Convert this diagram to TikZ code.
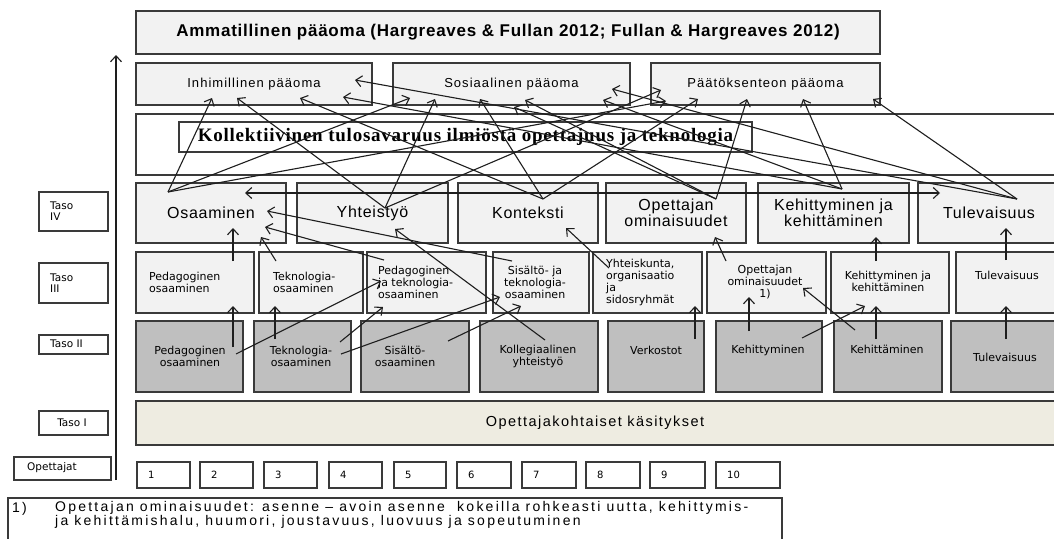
\documentclass[tikz,border=0pt]{standalone}
\usepackage{fontspec}
\setmainfont{Liberation Sans}
\newfontfamily\dejavu{DejaVu Sans}
\newfontfamily\spacedA{Liberation Sans}[LetterSpace=4.5]
\newfontfamily\spacedB{Liberation Sans}[LetterSpace=8]
\newfontfamily\spacedC{Liberation Sans}[LetterSpace=10]
\newfontfamily\spacedD{Liberation Sans}[LetterSpace=16]
\newfontfamily\serifwide{Liberation Serif}[LetterSpace=4]
\usetikzlibrary{arrows.meta}
\definecolor{boxline}{HTML}{3A3A3A}
\definecolor{lightfill}{HTML}{F2F2F2}
\definecolor{grayfill}{HTML}{BFBFBF}
\definecolor{beigefill}{HTML}{EEECE1}
\definecolor{arrowline}{HTML}{1E1E1E}
\newcommand\fsz[2]{\fontsize{#1}{#2}\selectfont}
% \panel{name}{style}{x1}{y1}{x2}{y2}{text}
\newcommand\panel[7]{\node[#2,anchor=north west,minimum width={#5-#3},minimum height={#6-#4}] (#1) at (#3,#4) {#7};}
\tikzset{
  pane/.style={draw=boxline,line width=1.2pt,fill=lightfill,inner sep=0pt,outer sep=0pt,align=center},
  darkpane/.style={pane,fill=grayfill},
  whitepane/.style={pane,fill=white},
  beigepane/.style={pane,fill=beigefill},
  arr/.style={draw=arrowline,line width=1.1pt,-{Straight Barb[length=6pt,width=11pt]}},
  biarr/.style={draw=arrowline,line width=1.1pt,{Straight Barb[length=6pt,width=11pt]}-{Straight Barb[length=6pt,width=11pt]}},
  small/.style={font=\dejavu\fsz{11}{12},inner sep=0pt,align=center},
  smallL/.style={small,align=left},
  tasotxt/.style={font=\dejavu\fsz{10.5}{11},inner sep=0pt,align=left},
  numtxt/.style={font=\dejavu\fsz{10}{12},inner sep=0pt},
  rowfour/.style={font=\spacedA\fsz{16}{16}},
  capital/.style={font=\spacedB\fsz{13}{15}},
  fntxt/.style={font=\spacedD\fsz{14}{14},inner sep=0pt},
}
\begin{document}
\begin{tikzpicture}[x=1pt,y=-1pt]
\useasboundingbox (0,0) rectangle (1054,538);
\clip (0,0) rectangle (1054,538);

% ---- capital level ----
\panel{title}{pane}{136}{11}{880}{54}{\spacedA\bfseries\fsz{17}{19}Ammatillinen pääoma (Hargreaves \& Fullan 2012; Fullan \& Hargreaves 2012)}
\panel{inh}{pane,capital}{136}{63}{372}{105}{Inhimillinen pääoma}
\panel{sos}{pane,capital}{393}{63}{630}{105}{Sosiaalinen pääoma}
\panel{paat}{pane,capital}{651}{63}{880}{105}{Päätöksenteon pääoma}

% ---- collective outcome space ----
\panel{koll}{whitepane}{136}{114}{1062}{175}{}
\panel{kollin}{whitepane}{179}{122}{752}{152}{\serifwide\bfseries\fsz{19}{20}Kollektiivinen tulosavaruus ilmiöstä opettajuus ja teknologia}

% ---- level IV ----
\panel{os4}{pane,rowfour}{136}{183}{286}{243}{Osaaminen}
\panel{yh4}{pane,rowfour}{297}{183}{448}{243}{Yhteistyö}
\panel{ko4}{pane,rowfour}{458}{183}{598}{243}{Konteksti}
\panel{op4}{pane,rowfour}{606}{183}{746}{243}{Opettajan\\ominaisuudet}
\panel{ke4}{pane,rowfour}{758}{183}{909}{243}{Kehittyminen ja\\kehittäminen}
\panel{tu4}{pane,rowfour}{918}{183}{1060}{243}{Tulevaisuus}

% ---- level III ----
\panel{pe3}{pane}{136}{252}{254}{313}{}
\panel{te3}{pane}{259}{252}{363}{313}{}
\panel{pt3}{pane}{367}{252}{486}{313}{}
\panel{st3}{pane}{493}{252}{589}{313}{}
\panel{yk3}{pane}{593}{252}{702}{313}{}
\panel{op3}{pane}{707}{252}{826}{313}{}
\panel{kk3}{pane}{831}{252}{949}{313}{}
\panel{tu3}{pane}{956}{252}{1060}{313}{}
\node[smallL,anchor=west] (pe3t) at (149,282) {Pedagoginen\\osaaminen};
\node[smallL,anchor=west] (te3t) at (273,282) {Teknologia-\\osaaminen};
\node[smallL,anchor=west] (pt3t) at (378,282) {Pedagoginen\\ja teknologia-\\osaaminen};
\node[small] (st3t) at (535,282) {Sisältö- ja\\teknologia-\\osaaminen};
\node[smallL,anchor=west] (yk3t) at (606,282) {Yhteiskunta,\\organisaatio\\ja\\sidosryhmät};
\node[small] (op3t) at (765,282) {Opettajan\\ominaisuudet\\1)};
\node[small] (kk3t) at (888,281) {Kehittyminen ja\\kehittäminen};
\node[small] (tu3t) at (1007,275) {Tulevaisuus};

% ---- level II ----
\panel{pe2}{darkpane}{136}{321}{243}{392}{}
\panel{te2}{darkpane}{254}{321}{351}{392}{}
\panel{si2}{darkpane}{361}{321}{469}{392}{}
\panel{ko2}{darkpane}{480}{321}{598}{392}{}
\panel{ve2}{darkpane}{608}{321}{704}{392}{}
\panel{ky2}{darkpane}{716}{321}{822}{392}{}
\panel{kt2}{darkpane}{834}{321}{942}{392}{}
\panel{tu2}{darkpane}{951}{321}{1060}{392}{}
\node[small] (pe2t) at (190,356) {Pedagoginen\\osaaminen};
\node[small] (te2t) at (301,356) {Teknologia-\\osaaminen};
\node[small] (si2t) at (405,356) {Sisältö-\\osaaminen};
\node[small] (ko2t) at (538,356) {Kollegiaalinen\\yhteistyö};
\node[small] (ve2t) at (656,350) {Verkostot};
\node[small] (ky2t) at (768,350) {Kehittyminen};
\node[small] (kt2t) at (887,349) {Kehittäminen};
\node[small] (tu2t) at (1005,357) {Tulevaisuus};

% ---- level I ----
\panel{band}{beigepane}{136}{401}{1062}{445}{}
\node[font=\spacedC\fsz{14.5}{16},inner sep=0pt] (bandt) at (595,423) {Opettajakohtaiset käsitykset};

% ---- level labels ----
\panel{lab4}{whitepane}{39}{192}{108}{231}{}
\panel{lab3}{whitepane}{39}{263}{108}{303}{}
\panel{lab2}{whitepane}{39}{335}{108}{354}{}
\panel{lab1}{whitepane}{39}{411}{108}{435}{}
\panel{labo}{whitepane}{14}{457}{111}{480}{}
\node[tasotxt,anchor=west] (lab4t) at (50,211) {Taso\\IV};
\node[tasotxt,anchor=west] (lab3t) at (50,283) {Taso\\III};
\node[tasotxt,anchor=west] (lab2t) at (50,344) {Taso II};
\node[tasotxt] (lab1t) at (72,423) {Taso I};
\node[tasotxt,anchor=west] (labot) at (27,468) {Opettajat};

% ---- teachers ----
\foreach \n/\l/\w in {1/137/53,2/200/53,3/264/53,4/329/53,5/394/52,6/457/54,7/522/54,8/586/54,9/650/55,10/716/64}{
  \node[whitepane,anchor=north west,minimum width=\w,minimum height=26] (t\n) at (\l,462) {};
  \node[numtxt,anchor=west] (t\n n) at (\l+11,475) {\n};
}

% ---- footnote ----
\panel{fnbox}{whitepane}{8}{498}{782}{548}{}
\node[fntxt,anchor=west] (fnnum) at (12,509) {1)};
\node[fntxt,anchor=north west,align=left] (fntext) at (55,501)
  {Opettajan ominaisuudet: asenne – avoin asenne \ kokeilla rohkeasti uutta, kehittymis-\\ja kehittämishalu, huumori, joustavuus, luovuus ja sopeutuminen};

% ---- vertical axis ----
\coordinate (axb) at (116,480);
\coordinate (axt) at (116,55);
\draw[arr] (axb) -- (axt);

% ---- level II to level III ----
\coordinate (a1s) at (233,347);  \coordinate (a1e) at (233,306);
\coordinate (a2s) at (275,339);  \coordinate (a2e) at (275,306);
\coordinate (a3s) at (236,354);  \coordinate (a3e) at (381,281);
\coordinate (a4s) at (340,342);  \coordinate (a4e) at (383,307);
\coordinate (a5s) at (341,354);  \coordinate (a5e) at (500,297);
\coordinate (a6s) at (448,341);  \coordinate (a6e) at (521,306);
\coordinate (a7s) at (545,340);  \coordinate (a7e) at (395,229);
\coordinate (a8s) at (695,339);  \coordinate (a8e) at (695,306);
\coordinate (a9s) at (749,331);  \coordinate (a9e) at (749,297);
\coordinate (a10s) at (802,338); \coordinate (a10e) at (865,306);
\coordinate (a11s) at (855,330); \coordinate (a11e) at (803,288);
\coordinate (a12s) at (876,339); \coordinate (a12e) at (876,306);
\coordinate (a13s) at (1006,339);\coordinate (a13e) at (1006,306);
\foreach \i in {1,...,13}{\draw[arr] (a\i s) -- (a\i e);}

% ---- level III to level IV ----
\coordinate (b1s) at (233,261); \coordinate (b1e) at (233,228);
\coordinate (b2s) at (276,261); \coordinate (b2e) at (261,237);
\coordinate (b3s) at (384,260); \coordinate (b3e) at (265,227);
\coordinate (b4s) at (512,261); \coordinate (b4e) at (267,211);
\coordinate (b5s) at (609,268); \coordinate (b5e) at (566,228);
\coordinate (b6s) at (726,261); \coordinate (b6e) at (715,237);
\coordinate (b7s) at (876,261); \coordinate (b7e) at (876,237);
\coordinate (b8s) at (1006,260);\coordinate (b8e) at (1006,228);
\foreach \i in {1,...,8}{\draw[arr] (b\i s) -- (b\i e);}

% ---- link between Osaaminen and Tulevaisuus ----
\coordinate (hl) at (245,193);
\coordinate (hr) at (940,193);
\draw[biarr] (hl) -- (hr);

% ---- level IV to the three capitals ----
\coordinate (sO) at (168,192);
\coordinate (sY) at (385,208);
\coordinate (sK) at (543,199);
\coordinate (sOp) at (716,199);
\coordinate (sKe) at (842,189);
\coordinate (sT) at (1017,199);
\coordinate (iO) at (212,98);  \coordinate (iY) at (237,98);  \coordinate (iK) at (300,98);
\coordinate (iKe) at (343,97); \coordinate (iT) at (355,80);
\coordinate (oO) at (410,98);  \coordinate (oY) at (435,99);  \coordinate (oK) at (480,99);
\coordinate (oOp) at (525,100);\coordinate (oOpb) at (514,107);
\coordinate (oKe) at (603,100);\coordinate (oT) at (612,89);
\coordinate (pO) at (666,101); \coordinate (pY) at (661,90);  \coordinate (pK) at (698,99);
\coordinate (pOp) at (747,99); \coordinate (pKe) at (803,99); \coordinate (pT) at (873,99);
\draw[arr] (sO) -- (iO);  \draw[arr] (sO) -- (oO);  \draw[arr] (sO) -- (pO);
\draw[arr] (sY) -- (iY);  \draw[arr] (sY) -- (oY);  \draw[arr] (sY) -- (pY);
\draw[arr] (sK) -- (iK);  \draw[arr] (sK) -- (oK);  \draw[arr] (sK) -- (pK);
\draw[arr] (sOp) -- (oOp);\draw[arr] (sOp) -- (oOpb);\draw[arr] (sOp) -- (pOp);
\draw[arr] (sKe) -- (iKe);\draw[arr] (sKe) -- (oKe);\draw[arr] (sKe) -- (pKe);
\draw[arr] (sT) -- (iT);  \draw[arr] (sT) -- (oT);  \draw[arr] (sT) -- (pT);
\end{tikzpicture}
\end{document}
